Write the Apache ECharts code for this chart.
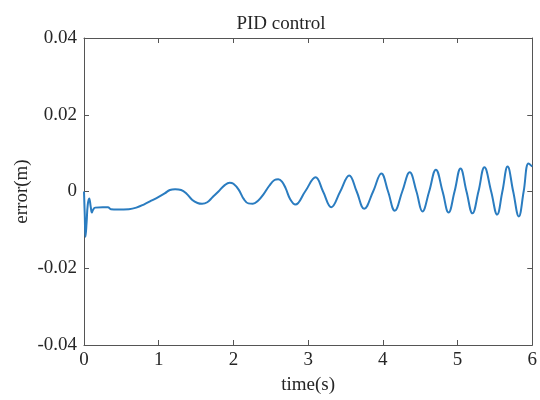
<!DOCTYPE html>
<html>
<head>
<meta charset="utf-8">
<script src="https://cdn.jsdelivr.net/npm/echarts@6/dist/echarts.min.js"></script>
<style>
  html, body { margin: 0; padding: 0; background: #fff; }
  #chart { width: 540px; height: 400px; }
</style>
</head>
<body>
<div id="chart"></div>
<script>
// time (s) and tracking error (m)
const times = [
  0, 0.01, 0.02, 0.035, 0.05, 0.07, 0.09, 0.105, 0.12, 0.15, 0.25, 0.32, 0.36, 0.45, 0.6, 0.7, 0.8, 0.9,
  1.0, 1.08, 1.15, 1.22, 1.3, 1.37, 1.45, 1.52, 1.58, 1.65, 1.72, 1.8, 1.88, 1.95,
  2.0, 2.07, 2.14, 2.2, 2.26, 2.33, 2.4, 2.48, 2.55, 2.6, 2.65, 2.7, 2.76, 2.83,
  2.96, 3.10, 3.20, 3.31, 3.43, 3.55, 3.65, 3.75, 3.87, 3.98,
  4.07, 4.16, 4.26, 4.36, 4.45, 4.53, 4.62, 4.71, 4.80, 4.88, 4.96,
  5.04, 5.12, 5.20, 5.28, 5.36, 5.45, 5.53, 5.60, 5.67, 5.745, 5.82, 5.885, 5.95, 6.0
];
const errors = [
  0, -0.006, -0.0118, -0.008, -0.0035, -0.0018, -0.004, -0.0055, -0.0048, -0.0042, -0.0041, -0.0041, -0.0046, -0.0047, -0.0046, -0.0042, -0.0034, -0.0024,
  -0.0014, -0.0005, 0.0004, 0.0006, 0.0004, -0.0005, -0.0022, -0.003, -0.0032, -0.0028, -0.0015, 0, 0.0016, 0.0023,
  0.002, 0.0005, -0.002, -0.0031, -0.0032, -0.0024, -0.0008, 0.0015, 0.003, 0.0032, 0.0026, 0.0008, -0.002, -0.0034,
  0, 0.0037, 0, -0.0041, 0, 0.0042, 0, -0.0045, 0, 0.0047,
  0, -0.005, 0, 0.005, 0, -0.0052, 0, 0.0057, 0, -0.0055, 0,
  0.006, 0, -0.0057, 0, 0.0063, 0, -0.006, 0, 0.0065, 0, -0.0065, 0, 0.0073, 0.0065
];
const xTicks = [0, 1, 2, 3, 4, 5, 6];
const yTicks = [-0.04, -0.02, 0, 0.02, 0.04];

const font = 'Liberation Serif';
const axisGray = '#555555';
const textGray = '#262626';

const myEchart = echarts.init(document.getElementById('chart'));

const xBase = {
  type: 'value',
  min: xTicks[0],
  max: xTicks[xTicks.length - 1],
  interval: 1,
  axisLine: { onZero: false, lineStyle: { color: axisGray, width: 1 } },
  axisTick: { inside: true, length: 5, lineStyle: { color: axisGray } },
  splitLine: { show: false }
};
const yBase = {
  type: 'value',
  min: yTicks[0],
  max: yTicks[yTicks.length - 1],
  interval: 0.02,
  axisLine: { show: true, onZero: false, lineStyle: { color: axisGray, width: 1 } },
  axisTick: { show: true, inside: true, length: 5, lineStyle: { color: axisGray } },
  splitLine: { show: false }
};

myEchart.setOption({
  animation: false,
  backgroundColor: '#fff',
  title: {
    text: 'PID control',
    left: 276,
    textAlign: 'center',
    top: 10,
    textStyle: { fontFamily: font, fontSize: 19, fontWeight: 'normal', color: textGray }
  },
  grid: { left: 84, right: 5, top: 38, bottom: 55 },
  xAxis: [
    {
      ...xBase,
      position: 'bottom',
      name: 'time(s)',
      nameLocation: 'middle',
      nameGap: 31,
      nameMoveOverlap: false,
      nameTextStyle: { fontFamily: font, fontSize: 19, color: textGray },
      axisLabel: { fontFamily: font, fontSize: 19, color: textGray, margin: 6 }
    },
    { ...xBase, position: 'top', axisLabel: { show: false } }
  ],
  yAxis: [
    {
      ...yBase,
      position: 'left',
      name: 'error(m)',
      nameLocation: 'middle',
      nameGap: 52,
      nameMoveOverlap: false,
      nameTextStyle: { fontFamily: font, fontSize: 19, color: textGray },
      axisLabel: {
        fontFamily: font, fontSize: 19, color: textGray, margin: 7,
        formatter: v => String(Math.round(v * 100) / 100)
      }
    },
    { ...yBase, position: 'right', axisLabel: { show: false } }
  ],
  series: [{
    type: 'line',
    xAxisIndex: 0,
    yAxisIndex: 0,
    data: times.map((t, i) => [t, errors[i]]),
    showSymbol: false,
    smooth: 0.42,
    lineStyle: { color: '#2a7cc0', width: 2 },
    itemStyle: { color: '#2a7cc0' }
  }]
});
</script>
</body>
</html>
